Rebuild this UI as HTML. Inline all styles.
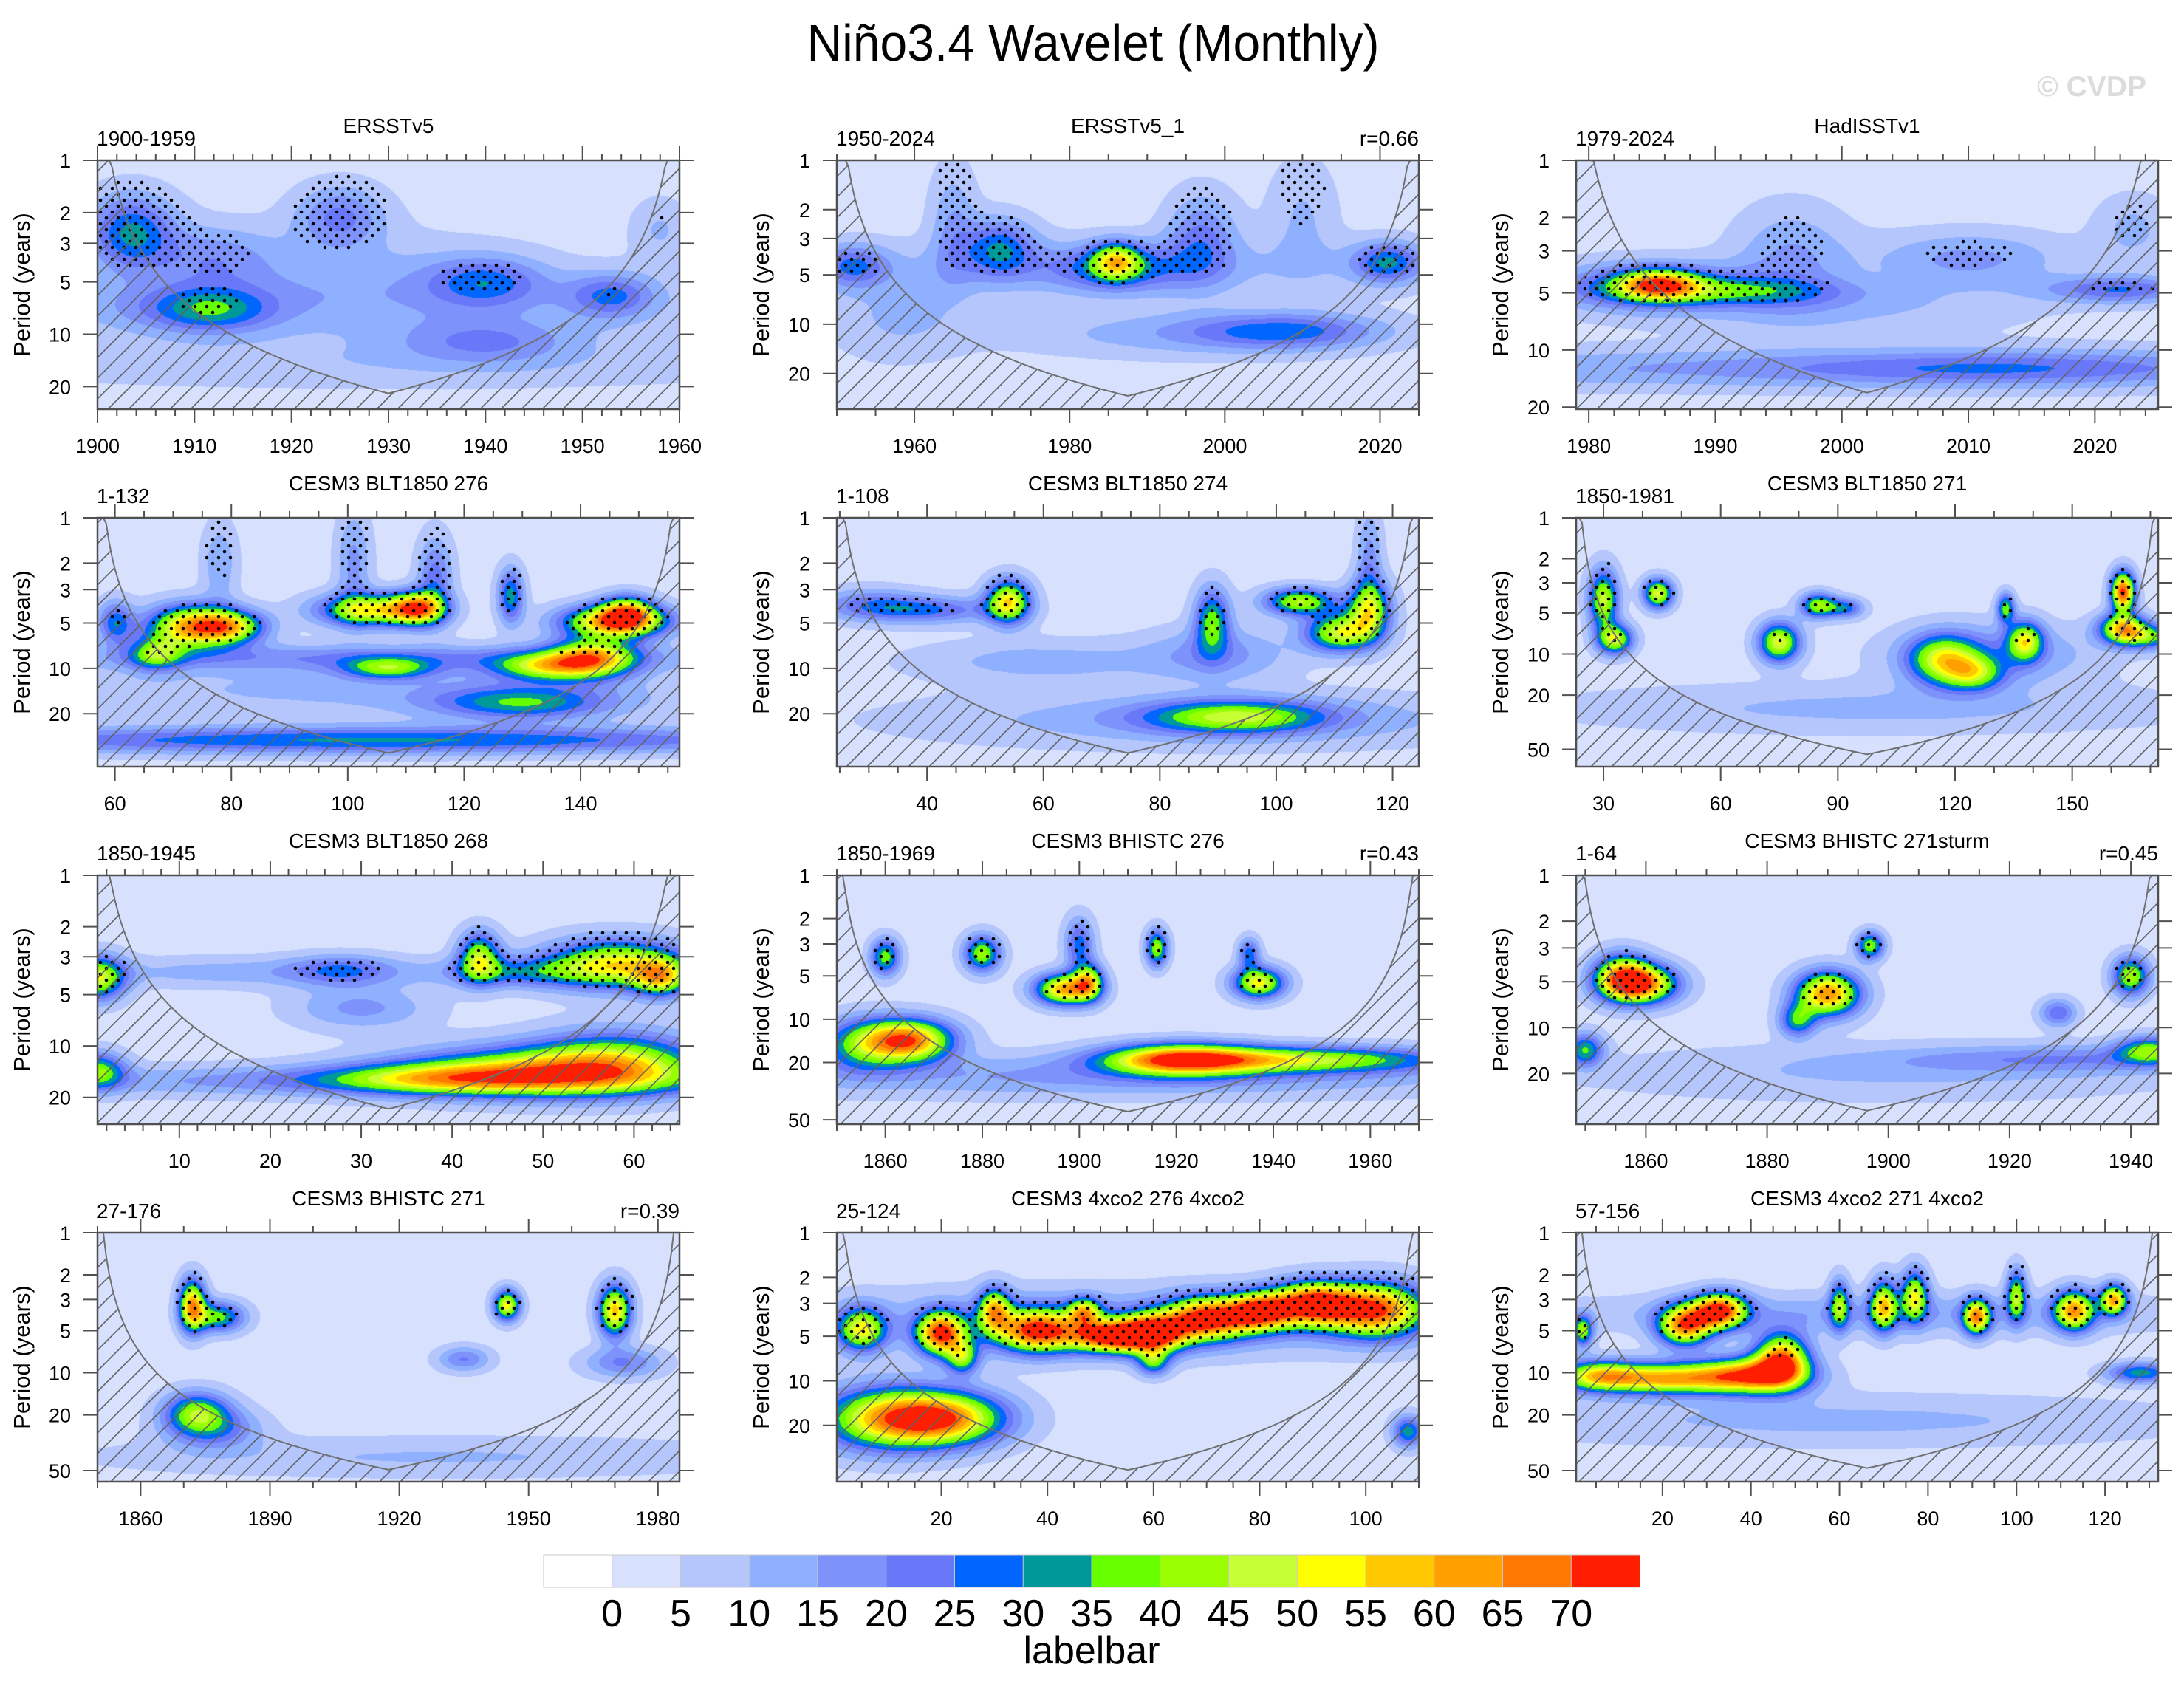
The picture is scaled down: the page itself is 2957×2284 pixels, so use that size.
<!DOCTYPE html>
<html><head><meta charset="utf-8">
<style>
html,body{margin:0;padding:0;background:#fff;}
#wrap{position:relative;width:2957px;height:2284px;overflow:hidden;background:#fff;}
#cv{position:absolute;left:0;top:0;}
#sv{position:absolute;left:0;top:0;}
text{font-family:"Liberation Sans",Arial,sans-serif;}
</style></head>
<body>
<div id="wrap">
<canvas id="cv" width="2957" height="2284"></canvas>
<svg id="sv" width="2957" height="2284" xmlns="http://www.w3.org/2000/svg">
<defs>
<pattern id="hatch" patternUnits="userSpaceOnUse" width="28" height="28">
<path d="M0,28 L28,0 M-7,7 L7,-7 M21,35 L35,21" stroke="#606060" stroke-width="1.6"/>
</pattern>
</defs>
<text x="1480" y="82" font-size="70" text-anchor="middle" textLength="775" lengthAdjust="spacingAndGlyphs">Niño3.4 Wavelet (Monthly)</text>
<text x="2906" y="130" font-size="39" font-weight="bold" fill="#dcdcdc" text-anchor="end">© CVDP</text>
<g id="panels"></g>
<g id="colorbar"></g>
</svg>
</div>
<script>
// ---------- data ----------
const levelLabels=[0,5,10,15,20,25,30,35,40,45,50,55,60,65,70];
const levelColors=["#ffffff","#d7e1fe","#b5c6fd","#8fb0fe","#7d93fb","#6978f8","#0066ff","#009999","#66ff00","#99ff00","#c6ff33","#ffff00","#ffc800","#ffa000","#ff7800","#ff1e00"];
const leftLabels=["1900-1959","1950-2024","1979-2024","1-132","1-108","1850-1981","1850-1945","1850-1969","1-64","27-176","25-124","57-156"];
const centerLabels=["ERSSTv5","ERSSTv5_1","HadISSTv1","CESM3 BLT1850 276","CESM3 BLT1850 274","CESM3 BLT1850 271","CESM3 BLT1850 268","CESM3 BHISTC 276","CESM3 BHISTC 271sturm","CESM3 BHISTC 271","CESM3 4xco2 276 4xco2","CESM3 4xco2 271 4xco2"];
const rightLabels=["","r=0.66","","","","","","r=0.43","r=0.45","r=0.39","",""];
const timeStart=[1900,1950,1979,57,24.5,23,1,1850,1848.5,1850,0.3,0.5];
const timeEnd=[1960,2025,2025,157,124.5,172,65,1970,1944.5,1985,110,132];
const periodMax=[27,33,20.5,45,45,67,28.7,53.6,43,60,48,60];
const majorStep=[10,20,10,20,20,30,10,20,20,30,20,20];
const minorStep=[2,5,2,5,5,10,2,5,5,10,5,5];
const periodTicks=[1,2,3,5,10,20,50];
const dotScale=[3,3,3,3.5,3.5,3.5,3.5,3.5,3.5,3.5,4,4];
// power features: [time, period, timeWidth, logPeriodWidth, power]
const powerP1=[[1903.5,2.6,3,.12,28],[1912,3.6,4,.1,12],[1925,2.1,3,.1,18],[1912,7.3,4,.07,20],[1907,7,6,.08,8],[1940,5,4,.08,20],[1953,6,3,.07,20],[1930,7,40,.12,7],[1940,11,6,.07,14],[1930,15,50,.08,6],[1925,4.5,12,.15,7],[1958,2.5,2,.1,8]];
const powerP2=[[1986,4.1,2,.06,34],[1986,4.6,6,.08,20],[1971,3.4,3,.1,24],[1952,4.4,3,.07,20],[2021,4.2,3,.07,26],[1997,3,3,.15,18],[1965,2.5,2,.2,12],[2008,11,8,.06,20],[1995,11.5,15,.08,10],[1985,4.5,40,.1,8],[1958,9,6,.15,8],[2010,2.2,3,.2,8]];
const powerP3=[[1985.5,4.5,2,.04,42],[1985,4.6,5,.07,26],[1991,4.9,6,.04,18],[2022,4.8,4,.04,22],[2010,3.3,5,.08,14],[1996,3.3,3,.15,13],[2005,12.5,60,.06,14],[2012,12.5,10,.05,10],[2000,6,10,.08,8],[2023,2.3,2,.1,9]];
const powerP4=[[73,5.3,5,.08,55],[80,5.3,4,.06,40],[104,4.1,6,.06,48],[112,4,3,.06,50],[146,4.9,6,.06,60],[148,4.2,3,.06,40],[142,8.5,5,.07,48],[134,9.8,6,.05,35],[107,10,5,.04,30],[130,17,10,.06,28],[105,30,80,.05,28],[105,8.5,60,.05,16],[128,3.3,1.5,.1,30],[60,5,2,.08,25],[67,8,3,.06,30],[105,14,60,.1,9],[115,2.5,2,.15,20],[78,2,2,.15,12],[101,2,2,.2,14]];
const powerP5=[[54,3.6,2.5,.08,50],[40,4.1,8,.05,22],[30,3.7,6,.06,15],[89,4.8,2,.12,34],[111,5.8,4,.07,45],[104,3.6,4,.05,42],[116,4,2.5,.1,40],[93,21,10,.06,35],[90,22,50,.1,12],[60,9,15,.08,10],[90,8,8,.1,14],[116,2,1.5,.2,15]];
const powerP6=[[30,4,2.5,.12,45],[33,7.8,3,.06,45],[44,3.6,2.5,.06,48],[75,8.2,3.5,.08,48],[85,4.4,3,.05,40],[92,4.6,3,.04,25],[117,11,6,.1,40],[125,14,5,.07,30],[138,8,3,.08,42],[133,4.6,1.5,.06,35],[163,3.5,2,.08,70],[163,6.5,4,.06,52],[170,7.5,5,.05,30],[100,25,80,.1,9],[130,10,25,.12,15]];
const powerP7=[[1,4,2,.07,45],[43,3,1.5,.08,40],[58,3.3,5,.08,48],[63,4,2,.06,40],[47,3.7,6,.05,22],[50,14,10,.08,45],[38,15.5,8,.05,25],[58,12,6,.1,30],[35,16,40,.05,18],[1,14,2,.06,35],[15,3.7,10,.05,10],[28,3.6,4,.05,20],[30,6,5,.07,14]];
const powerP8=[[1860,3.7,2,.07,36],[1880,3.5,2.5,.07,40],[1897,6.2,4,.06,58],[1902,5.5,2,.07,40],[1916,3.2,1.5,.07,40],[1937,5.6,3.5,.06,50],[1865,14,6,.08,62],[1855,15,6,.1,30],[1921,19,10,.06,55],[1945,19,30,.05,40],[1935,3.5,1.5,.06,25],[1900,3,2,.1,25],[1910,25,80,.08,14]];
const powerP9=[[1859,5.2,4,.07,64],[1856,4.5,3,.08,40],[1890,6,3.5,.08,62],[1885,9,2,.06,30],[1897,2.9,1.5,.05,38],[1940,4.6,2,.07,42],[1850,14,2,.06,32],[1943,14,3.5,.05,32],[1930,16,30,.05,14],[1928,8,2,.05,22],[1900,20,50,.1,8]];
const powerP10=[[1872,3.3,2,.1,58],[1878,4,4,.06,35],[1945,3.3,2,.06,50],[1970,3.6,2.5,.1,55],[1873,19,5,.08,35],[1877,25,7,.08,20],[1935,8,4,.05,18],[1972,8.5,6,.06,18],[1930,40,80,.08,8]];
const powerP11=[[5,4.5,3,.08,45],[20,4.8,3,.08,65],[38,4.6,5,.08,62],[52,5,5,.06,65],[60,4.8,4,.07,62],[70,3.8,5,.08,62],[80,3.4,4,.07,58],[90,3,5,.08,66],[102,3.3,6,.1,62],[30,3.3,2,.08,45],[47,3.4,2,.05,40],[55,4,60,.12,15],[20,18,8,.1,62],[8,18,8,.12,40],[108,22,2,.06,30],[24,7,2,.06,35],[60,7.5,2,.05,30]];
const powerP12=[[20,11,10,.06,55],[40,10.5,8,.07,60],[47,8,4,.1,60],[5,10.5,6,.06,40],[25,4.6,4,.08,60],[33,3.6,4,.07,65],[2,5,1.5,.06,40],[70,3.3,2,.1,48],[77,2.8,2,.1,45],[91,4,2,.07,55],[100,2.8,1.5,.1,40],[113,3.6,3,.08,55],[122,3,2,.06,55],[60,3.3,1.5,.1,35],[128,10,5,.04,30],[70,3.8,70,.08,12],[60,22,80,.1,9]];
const panelPower=[powerP1,powerP2,powerP3,powerP4,powerP5,powerP6,powerP7,powerP8,powerP9,powerP10,powerP11,powerP12];

// ---------- layout / style ----------
const colLeft=[132,1133,2134], rowTop=[217,701,1185,1669], PW=788, PH=337;
const WT_SCALE=1.5, WL_SCALE=1.8;
const NS="http://www.w3.org/2000/svg";
const gPanels=document.getElementById('panels');
const ctx=document.getElementById('cv').getContext('2d');
function mk(tag,attrs,parent){const e=document.createElementNS(NS,tag);for(const k in attrs)e.setAttribute(k,attrs[k]);if(parent)parent.appendChild(e);return e;}
function hexRGB(h){return [parseInt(h.slice(1,3),16),parseInt(h.slice(3,5),16),parseInt(h.slice(5,7),16)];}
const rgb=levelColors.map(hexRGB);
function colorIndex(v){if(v<levelLabels[0])return 0;let i=1;for(let k=1;k<levelLabels.length;k++){if(v>=levelLabels[k])i=k+1;}return i;}
function powerAt(blobs,t,lp){let v=2.5;for(const b of blobs){const dx=(t-b[0])/(b[2]*(b[2]>20?1:WT_SCALE)),dy=(lp-Math.log10(b[1]))/(b[3]*WL_SCALE);const e=dx*dx+dy*dy;if(e<14)v+=b[4]*Math.exp(-e);}return v;}

for(let p=0;p<12;p++){
  const L=colLeft[p%3], T=rowTop[Math.floor(p/3)];
  const t0=timeStart[p], t1=timeEnd[p], lmax=Math.log10(periodMax[p]);
  const xs=t=>L+(t-t0)/(t1-t0)*PW;
  const ys=P=>T+Math.log10(P)/lmax*PH;
  const blobs=panelPower[p];
  const img=ctx.createImageData(PW,PH);
  for(let j=0;j<PH;j++){
    const lp=(j+0.5)/PH*lmax;
    for(let i=0;i<PW;i++){
      const t=t0+(i+0.5)/PW*(t1-t0);
      const c=rgb[colorIndex(powerAt(blobs,t,lp))];
      const o=(j*PW+i)*4;img.data[o]=c[0];img.data[o+1]=c[1];img.data[o+2]=c[2];img.data[o+3]=255;
    }
  }
  ctx.putImageData(img,L,T);
  const g=mk('g',{},gPanels);
  
  
  const clipId='clip'+p;
  const cp=mk('clipPath',{id:clipId},g);mk('rect',{x:L,y:T,width:PW,height:PH},cp);
  const dots=mk('g',{fill:'#000','clip-path':'url(#'+clipId+')'},g);
  
  
  for(let r=0,y=T+6;y<T+PH;y+=8,r++){
    const P=Math.pow(10,(y-T)/PH*lmax); if(P>8)break;
    const thr=dotScale[p]*Math.pow(Math.max(P,1),1.2)+2;
    for(let x=L+4+(r%2)*8;x<L+PW;x+=16){
      const t=t0+(x-L)/PW*(t1-t0);
      if(powerAt(blobs,t,Math.log10(P))>=thr){mk('circle',{cx:x,cy:y,r:2.3},dots);}
    }
  }
  const pts=[];
  for(let i=0;i<=200;i++){const t=t0+i/200*(t1-t0);const P=0.73*Math.min(t-t0,t1-t);let y=P<=1?T:ys(P);if(y>T+PH)y=T+PH;pts.push([xs(t),y]);}
  const poly=pts.map(q=>q[0].toFixed(1)+','+q[1].toFixed(1)).join(' ')+' '+(L+PW)+','+(T+PH)+' '+L+','+(T+PH);
  const hz=mk('polygon',{points:poly,fill:'url(#hatch)','clip-path':'url(#'+clipId+')'},g);
  
  
  const cl=mk('polyline',{points:pts.map(q=>q[0].toFixed(1)+','+q[1].toFixed(1)).join(' '),fill:'none',stroke:'#707070','stroke-width':2,'clip-path':'url(#'+clipId+')'},g);
  
  
  const fr=mk('rect',{x:L,y:T,width:PW,height:PH,fill:'none',stroke:'#505050','stroke-width':2.5},g);
  
  
  const ax=mk('g',{stroke:'#505050','stroke-width':2},g);
  
  
  const ms=minorStep[p];
  for(let v=Math.ceil(t0/ms)*ms;v<=t1+1e-6;v+=ms){
    const x=xs(v);const major=Math.abs(v/majorStep[p]-Math.round(v/majorStep[p]))<1e-6;const len=major?19:9;
    mk('line',{x1:x,y1:T+PH,x2:x,y2:T+PH+len},ax);mk('line',{x1:x,y1:T,x2:x,y2:T-len},ax);
    if(major){const tx=mk('text',{x:x,y:T+PH+59,'font-size':27,'text-anchor':'middle',stroke:'none',fill:'#000'},g);tx.textContent=String(v);
      
      }
  }
  for(const P of periodTicks){if(P>periodMax[p])continue;const y=ys(P);
    mk('line',{x1:L-19,y1:y,x2:L,y2:y},ax);mk('line',{x1:L+PW,y1:y,x2:L+PW+19,y2:y},ax);
    const ty=mk('text',{x:L-36,y:y+10,'font-size':27,'text-anchor':'end',fill:'#000'},g);ty.textContent=String(P);
    
    }
  const yl=mk('text',{x:0,y:0,'font-size':31,'text-anchor':'middle',transform:'translate('+(L-92)+','+(T+PH/2)+') rotate(-90)'},g);yl.textContent='Period (years)';
  
  
  const lt=mk('text',{x:L-1,y:T-20,'font-size':28},g);lt.textContent=leftLabels[p];
  
  
  const ct=mk('text',{x:L+PW/2,y:T-37,'font-size':28,'text-anchor':'middle'},g);ct.textContent=centerLabels[p];
  
  
  if(rightLabels[p]){const rt=mk('text',{x:L+PW,y:T-20,'font-size':28,'text-anchor':'end'},g);rt.textContent=rightLabels[p];
    
    }
}
const cb=document.getElementById('colorbar');
const cbL=736,cbR=2220,cbT=2105,cbB=2149,bw=(cbR-cbL)/levelColors.length;
levelColors.forEach((c,i)=>{const r=mk('rect',{x:cbL+i*bw,y:cbT,width:bw+0.5,height:cbB-cbT,fill:c,stroke:'#c8c8c8','stroke-width':1},cb);
  
  });
levelLabels.forEach((v,i)=>{const t=mk('text',{x:cbL+(i+1)*bw,y:2202,'font-size':52,'text-anchor':'middle'},cb);t.textContent=String(v);
  
  });
const lb=mk('text',{x:1478,y:2252,'font-size':52,'text-anchor':'middle'},cb);lb.textContent='labelbar';


</script>
</body></html>
